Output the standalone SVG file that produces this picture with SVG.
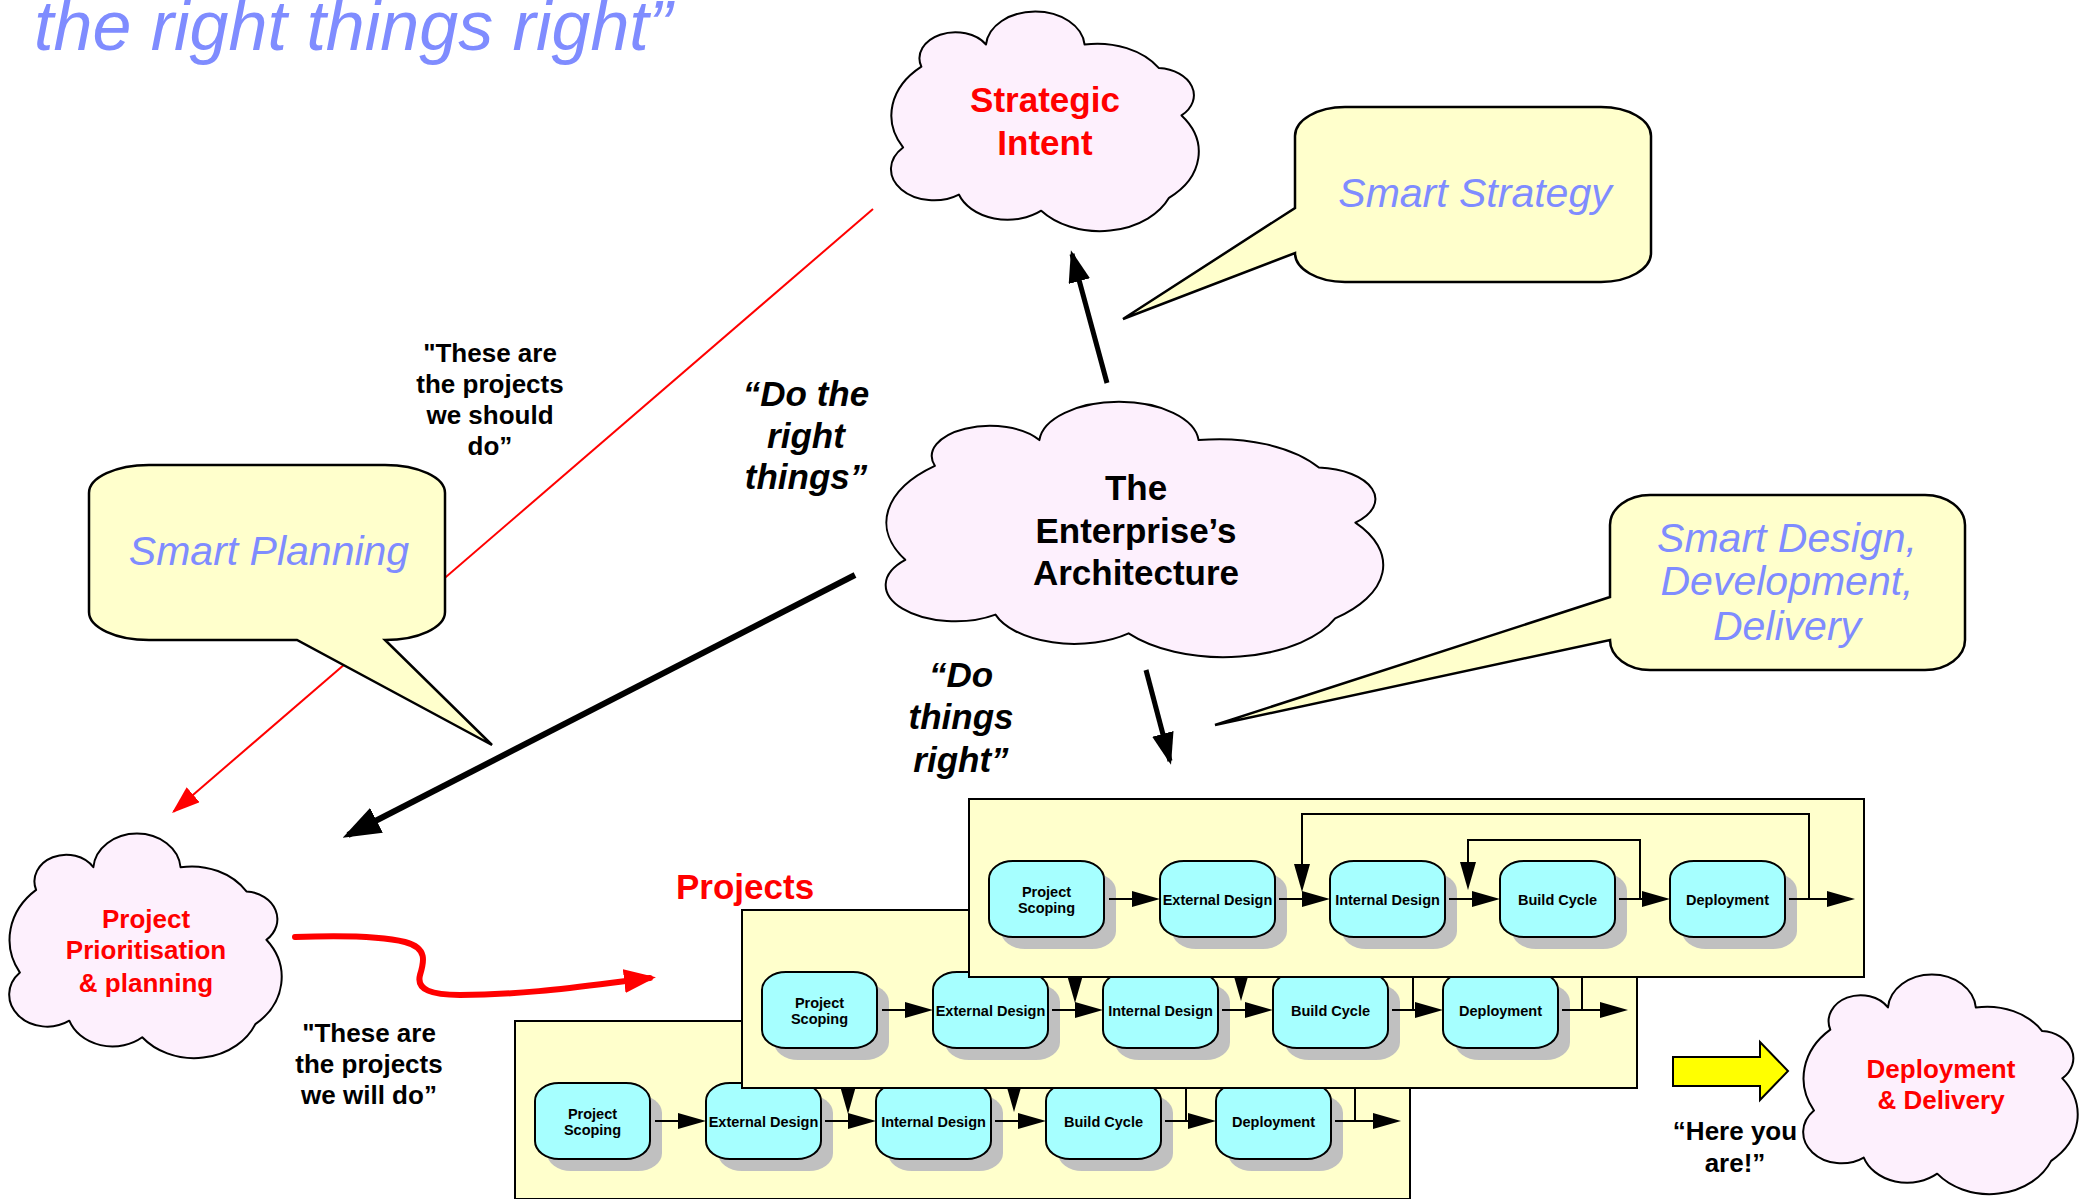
<svg xmlns="http://www.w3.org/2000/svg" width="2087" height="1199" viewBox="0 0 2087 1199">
<style>
text{font-family:"Liberation Sans",Arial,Helvetica,sans-serif}
.blue{fill:#7f8cff;font-style:italic;font-size:41px;text-anchor:middle}
.red{fill:#ff0000;font-weight:bold;text-anchor:middle}
.blk{fill:#000;font-weight:bold;text-anchor:middle}
.t35{font-size:35px}
.t26{font-size:26px}
.it{font-style:italic}
.cloud{fill:#fdf0fd;stroke:#000;stroke-width:2;stroke-linejoin:round}
.callout{fill:#ffffcc;stroke:#000;stroke-width:2.5;stroke-linejoin:miter}
.lane{fill:#ffffcc;stroke:#000;stroke-width:2}
.box{fill:#a6ffff;stroke:#000;stroke-width:2}
.shadow{fill:#c0c0c0}
.lbl{font-size:14.5px;font-weight:bold;text-anchor:middle;fill:#000}
.flow{fill:none;stroke:#000;stroke-width:2;marker-end:url(#m-proc)}
</style>
<defs>
<path id="cloud" vector-effect="non-scaling-stroke" d="M33,622 A296,296 0 0 1 93,256 A118,118 0 0 1 305,156 A162,162 0 0 1 628,156 A241,241 0 0 1 872,263 A123,123 0 0 1 946,477 A270,270 0 0 1 905,850 A246,246 0 0 1 486,908 A169,169 0 0 1 216,835 A141,141 0 0 1 33,622 Z"/>
<marker id="m-proc" markerUnits="userSpaceOnUse" markerWidth="28" markerHeight="16" refX="24" refY="8" orient="auto"><path d="M0,0 L28,8 L0,16 Z" fill="#000"/></marker>
<marker id="m-big" markerUnits="userSpaceOnUse" markerWidth="32" markerHeight="22" refX="28" refY="11" orient="auto"><path d="M0,0 L32,11 L0,22 Z" fill="#000"/></marker>
<marker id="m-thick" markerUnits="userSpaceOnUse" markerWidth="38" markerHeight="28" refX="32" refY="14" orient="auto"><path d="M0,0 L38,14 L0,28 Z" fill="#000"/></marker>
<marker id="m-red" markerUnits="userSpaceOnUse" markerWidth="28" markerHeight="20" refX="26" refY="10" orient="auto"><path d="M0,0 L28,10 L0,20 Z" fill="#ff0000"/></marker>
<marker id="m-redthick" markerUnits="userSpaceOnUse" markerWidth="32" markerHeight="24" refX="26" refY="12" orient="auto"><path d="M0,0 L32,12 L0,24 Z" fill="#ff0000"/></marker>
</defs>

<text id="title" x="34" y="50" font-size="70" font-style="italic" fill="#7f8cff">the right things right”</text>

<g id="connector-red-line">
<path d="M873,209 L173.5,811.7" fill="none" stroke="#ff0000" stroke-width="2" marker-end="url(#m-red)"/>
</g>

<g id="smart-planning">
<path class="callout" d="M149,465 H385 A60,28 0 0 1 445,493 V612 A60,28 0 0 1 385,640 L492,745 L297,640 H149 A60,28 0 0 1 89,612 V493 A60,28 0 0 1 149,465 Z"/>
<text class="blue" x="269" y="565">Smart Planning</text>
</g>

<g id="smart-strategy">
<path class="callout" d="M1345,107 H1601 A50,29 0 0 1 1651,136 V253 A50,29 0 0 1 1601,282 H1345 A50,29 0 0 1 1295,253 L1123,319 L1295,208 V136 A50,29 0 0 1 1345,107 Z"/>
<text class="blue" x="1475" y="207">Smart Strategy</text>
</g>

<g id="smart-design">
<path class="callout" d="M1650,495 H1925 A40,30 0 0 1 1965,525 V640 A40,30 0 0 1 1925,670 H1650 A40,30 0 0 1 1610,640 L1215,725 L1610,597 V525 A40,30 0 0 1 1650,495 Z"/>
<text class="blue" x="1787" y="552">Smart Design,</text>
<text class="blue" x="1787" y="595">Development,</text>
<text class="blue" x="1787" y="640">Delivery</text>
</g>

<g id="strategic-intent">
<use href="#cloud" class="cloud" transform="translate(893,10) scale(0.305,0.221)"/>
<text class="red t35" x="1045" y="112">Strategic</text>
<text class="red t35" x="1045" y="155">Intent</text>
</g>

<g id="enterprise-architecture">
<use href="#cloud" class="cloud" transform="translate(889,400) scale(0.493,0.257)"/>
<text class="blk t35" x="1136" y="500">The</text>
<text class="blk t35" x="1136" y="543">Enterprise’s</text>
<text class="blk t35" x="1136" y="585">Architecture</text>
</g>

<g id="project-prioritisation">
<use href="#cloud" class="cloud" transform="translate(11,832) scale(0.27,0.226)"/>
<text class="red t26" x="146" y="928">Project</text>
<text class="red t26" x="146" y="959">Prioritisation</text>
<text class="red t26" x="146" y="992">&amp; planning</text>
</g>

<g id="deployment-delivery">
<use href="#cloud" class="cloud" transform="translate(1805,973) scale(0.272,0.221)"/>
<text class="red t26" x="1941" y="1078">Deployment</text>
<text class="red t26" x="1941" y="1109">&amp; Delivery</text>
</g>

<g id="connectors" fill="none">
<path d="M1107,383 L1072,254" stroke="#000" stroke-width="5" marker-end="url(#m-big)"/>
<path d="M1146,670 L1170,761" stroke="#000" stroke-width="5" marker-end="url(#m-big)"/>
<path d="M855,575 L348,835" stroke="#000" stroke-width="6" marker-end="url(#m-thick)"/>
<path d="M295,937 C350,935 385,937 405,942 C428,948 424,962 420,975 C416,990 432,995 460,995 C530,995 590,985 650,978" stroke="#ff0000" stroke-width="6" stroke-linecap="round" marker-end="url(#m-redthick)"/>
</g>

<g id="labels">
<text class="blk t26" x="490" y="362">"These are</text>
<text class="blk t26" x="490" y="393">the projects</text>
<text class="blk t26" x="490" y="424">we should</text>
<text class="blk t26" x="490" y="455">do”</text>
<text class="blk t35 it" x="806" y="406">“Do the</text>
<text class="blk t35 it" x="806" y="448">right</text>
<text class="blk t35 it" x="806" y="489">things”</text>
<text class="blk t35 it" x="961" y="687">“Do</text>
<text class="blk t35 it" x="961" y="729">things</text>
<text class="blk t35 it" x="961" y="772">right”</text>
<text x="676" y="899" font-size="35" font-weight="bold" fill="#ff0000">Projects</text>
<text class="blk t26" x="369" y="1042">"These are</text>
<text class="blk t26" x="369" y="1073">the projects</text>
<text class="blk t26" x="369" y="1104">we will do”</text>
<text class="blk t26" x="1735" y="1140">“Here you</text>
<text class="blk t26" x="1735" y="1172">are!”</text>
</g>

<g id="project-row-3" transform="translate(515,1021)">
<rect class="lane" x="0" y="0" width="895" height="178"/>
<g id="r3-scoping"><rect class="shadow" x="32" y="74" width="115" height="76" rx="24" ry="18"/><rect class="box" x="20" y="62" width="115" height="76" rx="24" ry="18"/><text class="lbl" x="77.5" y="98">Project</text><text class="lbl" x="77.5" y="114">Scoping</text></g>
<g id="r3-external"><rect class="shadow" x="203" y="74" width="115" height="76" rx="24" ry="18"/><rect class="box" x="191" y="62" width="115" height="76" rx="24" ry="18"/><text class="lbl" x="248.5" y="106">External Design</text></g>
<g id="r3-internal"><rect class="shadow" x="373" y="74" width="115" height="76" rx="24" ry="18"/><rect class="box" x="361" y="62" width="115" height="76" rx="24" ry="18"/><text class="lbl" x="418.5" y="106">Internal Design</text></g>
<g id="r3-build"><rect class="shadow" x="543" y="74" width="115" height="76" rx="24" ry="18"/><rect class="box" x="531" y="62" width="115" height="76" rx="24" ry="18"/><text class="lbl" x="588.5" y="106">Build Cycle</text></g>
<g id="r3-deploy"><rect class="shadow" x="713" y="74" width="115" height="76" rx="24" ry="18"/><rect class="box" x="701" y="62" width="115" height="76" rx="24" ry="18"/><text class="lbl" x="758.5" y="106">Deployment</text></g>
<g id="r3-flow"><path class="flow" d="M140,100 H187"/><path class="flow" d="M310,100 H357"/><path class="flow" d="M480,100 H527"/><path class="flow" d="M650,100 H697"/><path class="flow" d="M820,100 H882"/><path class="flow" d="M840,100 V15 H333 V89"/><path class="flow" d="M671,100 V41 H499 V87"/></g>
</g>

<g id="project-row-2" transform="translate(742,910)">
<rect class="lane" x="0" y="0" width="895" height="178"/>
<g id="r2-scoping"><rect class="shadow" x="32" y="74" width="115" height="76" rx="24" ry="18"/><rect class="box" x="20" y="62" width="115" height="76" rx="24" ry="18"/><text class="lbl" x="77.5" y="98">Project</text><text class="lbl" x="77.5" y="114">Scoping</text></g>
<g id="r2-external"><rect class="shadow" x="203" y="74" width="115" height="76" rx="24" ry="18"/><rect class="box" x="191" y="62" width="115" height="76" rx="24" ry="18"/><text class="lbl" x="248.5" y="106">External Design</text></g>
<g id="r2-internal"><rect class="shadow" x="373" y="74" width="115" height="76" rx="24" ry="18"/><rect class="box" x="361" y="62" width="115" height="76" rx="24" ry="18"/><text class="lbl" x="418.5" y="106">Internal Design</text></g>
<g id="r2-build"><rect class="shadow" x="543" y="74" width="115" height="76" rx="24" ry="18"/><rect class="box" x="531" y="62" width="115" height="76" rx="24" ry="18"/><text class="lbl" x="588.5" y="106">Build Cycle</text></g>
<g id="r2-deploy"><rect class="shadow" x="713" y="74" width="115" height="76" rx="24" ry="18"/><rect class="box" x="701" y="62" width="115" height="76" rx="24" ry="18"/><text class="lbl" x="758.5" y="106">Deployment</text></g>
<g id="r2-flow"><path class="flow" d="M140,100 H187"/><path class="flow" d="M310,100 H357"/><path class="flow" d="M480,100 H527"/><path class="flow" d="M650,100 H697"/><path class="flow" d="M820,100 H882"/><path class="flow" d="M840,100 V15 H333 V89"/><path class="flow" d="M671,100 V41 H499 V87"/></g>
</g>

<g id="project-row-1" transform="translate(969,799)">
<rect class="lane" x="0" y="0" width="895" height="178"/>
<g id="r1-scoping"><rect class="shadow" x="32" y="74" width="115" height="76" rx="24" ry="18"/><rect class="box" x="20" y="62" width="115" height="76" rx="24" ry="18"/><text class="lbl" x="77.5" y="98">Project</text><text class="lbl" x="77.5" y="114">Scoping</text></g>
<g id="r1-external"><rect class="shadow" x="203" y="74" width="115" height="76" rx="24" ry="18"/><rect class="box" x="191" y="62" width="115" height="76" rx="24" ry="18"/><text class="lbl" x="248.5" y="106">External Design</text></g>
<g id="r1-internal"><rect class="shadow" x="373" y="74" width="115" height="76" rx="24" ry="18"/><rect class="box" x="361" y="62" width="115" height="76" rx="24" ry="18"/><text class="lbl" x="418.5" y="106">Internal Design</text></g>
<g id="r1-build"><rect class="shadow" x="543" y="74" width="115" height="76" rx="24" ry="18"/><rect class="box" x="531" y="62" width="115" height="76" rx="24" ry="18"/><text class="lbl" x="588.5" y="106">Build Cycle</text></g>
<g id="r1-deploy"><rect class="shadow" x="713" y="74" width="115" height="76" rx="24" ry="18"/><rect class="box" x="701" y="62" width="115" height="76" rx="24" ry="18"/><text class="lbl" x="758.5" y="106">Deployment</text></g>
<g id="r1-flow"><path class="flow" d="M140,100 H187"/><path class="flow" d="M310,100 H357"/><path class="flow" d="M480,100 H527"/><path class="flow" d="M650,100 H697"/><path class="flow" d="M820,100 H882"/><path class="flow" d="M840,100 V15 H333 V89"/><path class="flow" d="M671,100 V41 H499 V87"/></g>
</g>

<g id="here-arrow">
<path d="M1673,1057 H1760 V1042 L1788,1071 L1760,1100 V1086 H1673 Z" fill="#ffff00" stroke="#000" stroke-width="2"/>
</g>
</svg>
